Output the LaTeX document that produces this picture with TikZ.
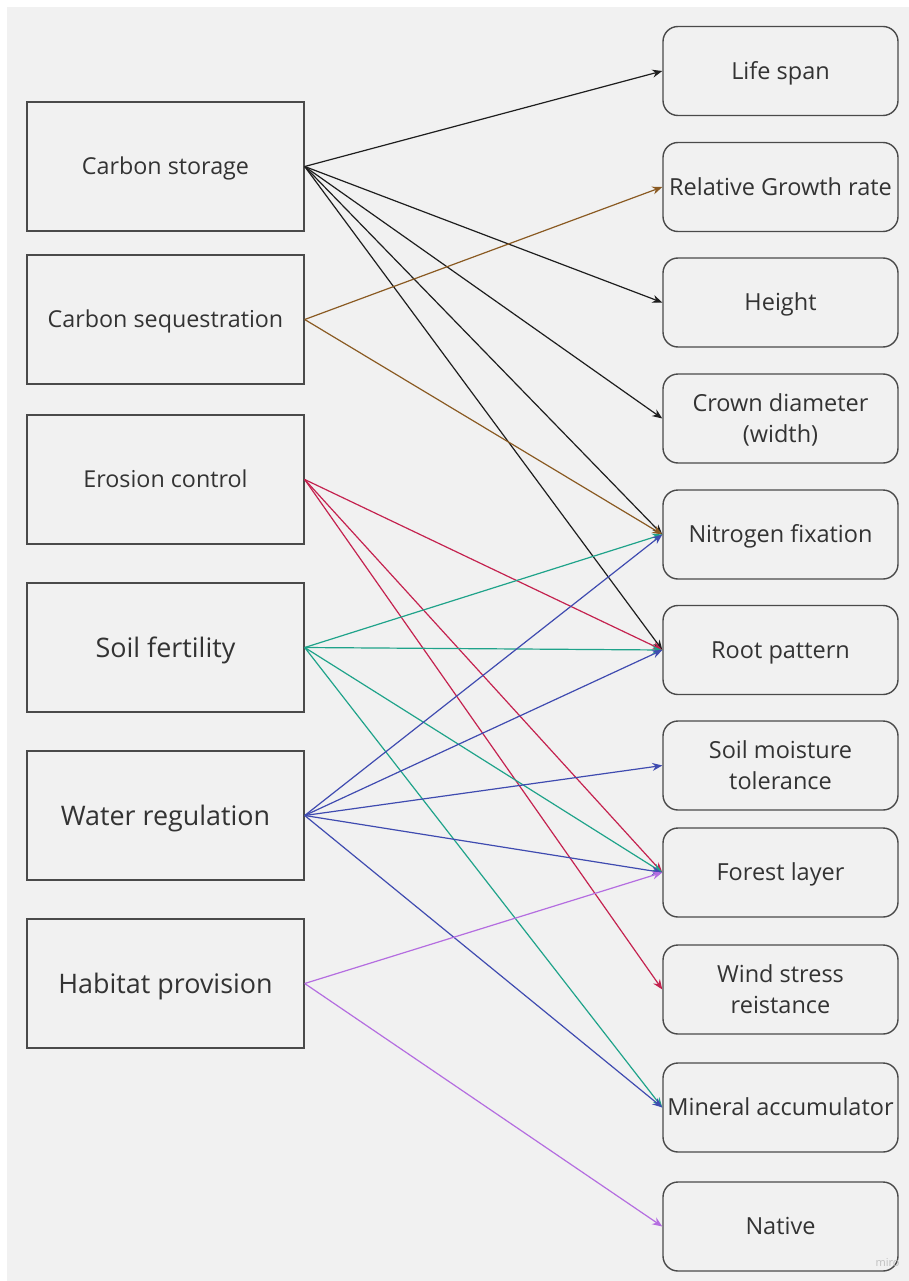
\documentclass[tikz,border=0pt]{standalone}
\usepackage{fontspec}
\setmainfont{Open Sans}
\usetikzlibrary{arrows.meta}
\definecolor{bgc}{HTML}{F1F1F1}
\definecolor{txt}{HTML}{333333}
\definecolor{bord}{HTML}{4A4A4A}
\definecolor{cblack}{HTML}{1E1E1E}
\definecolor{cbrown}{HTML}{8A5A22}
\definecolor{ccrim}{HTML}{C4224F}
\definecolor{cteal}{HTML}{1FA38A}
\definecolor{cblue}{HTML}{3F4BB0}
\definecolor{cpurp}{HTML}{B46DE0}
% text whose capitals are centred on the node centre
\newcommand\onel[1]{\raisebox{-0.357em}[0pt][0pt]{#1}}
\newcommand\twol[2]{\raisebox{\dimexpr 0.5\baselineskip-0.357em\relax}[0pt][0pt]{\begin{tabular}[t]{@{}c@{}}#1\\#2\end{tabular}}}
\tikzset{
  leftbox/.style={draw=bord, line width=1.4pt, minimum width=277pt, minimum height=129pt, inner sep=0pt, text=txt, font=\fontsize{23.3}{31.5}\selectfont},
  bigtext/.style={font=\fontsize{26.9}{34}\selectfont},
  rightbox/.style={draw=bord, line width=1.4pt, rounded corners=15pt, minimum width=235pt, minimum height=89pt, inner sep=0pt, text=txt, font=\fontsize{23.5}{31.6}\selectfont},
  link/.style={line width=1.2pt, -{Stealth[length=10pt,width=8pt]}},
}
\begin{document}
\begin{tikzpicture}[x=1pt,y=-1pt]
\fill[white] (0,0) rectangle (909,1281);
\fill[bgc] (7,7) rectangle (909,1281);
\useasboundingbox (0,0) rectangle (909,1281);
% left boxes
\node[leftbox] (cs) at (165.5,166.5) {\onel{Carbon storage}};
\node[leftbox] (cq) at (165.5,319.5) {\onel{Carbon sequestration}};
\node[leftbox] (ec) at (165.5,479.5) {\onel{Erosion control}};
\node[leftbox,bigtext] (sf) at (165.5,647.5) {\onel{Soil fertility}};
\node[leftbox,bigtext] (wr) at (165.5,815.5) {\onel{Water regulation}};
\node[leftbox,bigtext] (hp) at (165.5,983.5) {\onel{Habitat provision}};
% right boxes
\node[rightbox] (ls) at (780.5,71) {\onel{Life span}};
\node[rightbox] (rg) at (780.5,187) {\onel{Relative Growth rate}};
\node[rightbox] (ht) at (780.5,302.5) {\onel{Height}};
\node[rightbox] (cd) at (780.5,418.5) {\twol{Crown diameter}{(width)}};
\node[rightbox] (nf) at (780.5,534.5) {\onel{Nitrogen fixation}};
\node[rightbox] (rp) at (780.5,650) {\onel{Root pattern}};
\node[rightbox] (sm) at (780.5,765.5) {\twol{Soil moisture}{tolerance}};
\node[rightbox] (fl) at (780.5,872.5) {\onel{Forest layer}};
\node[rightbox] (ws) at (780.5,989.5) {\twol{Wind stress}{reistance}};
\node[rightbox] (ma) at (780.5,1107.5) {\onel{Mineral accumulator}};
\node[rightbox] (nv) at (780.5,1226.5) {\onel{Native}};
% links
\foreach \t in {ls,ht,cd,nf,rp} \draw[link,cblack] (cs.east) -- (\t.west);
\foreach \t in {rg,nf} \draw[link,cbrown] (cq.east) -- (\t.west);
\foreach \t in {rp,fl,ws} \draw[link,ccrim] (ec.east) -- (\t.west);
\foreach \t in {nf,rp,fl,ma} \draw[link,cteal] (sf.east) -- (\t.west);
\foreach \t in {nf,rp,sm,fl,ma} \draw[link,cblue] (wr.east) -- (\t.west);
\foreach \t in {fl,nv} \draw[link,cpurp] (hp.east) -- (\t.west);
\node[text=black!25, font=\fontsize{11}{13}\selectfont, anchor=east] (wm) at (903,1263) {miro};
\end{tikzpicture}
\end{document}
